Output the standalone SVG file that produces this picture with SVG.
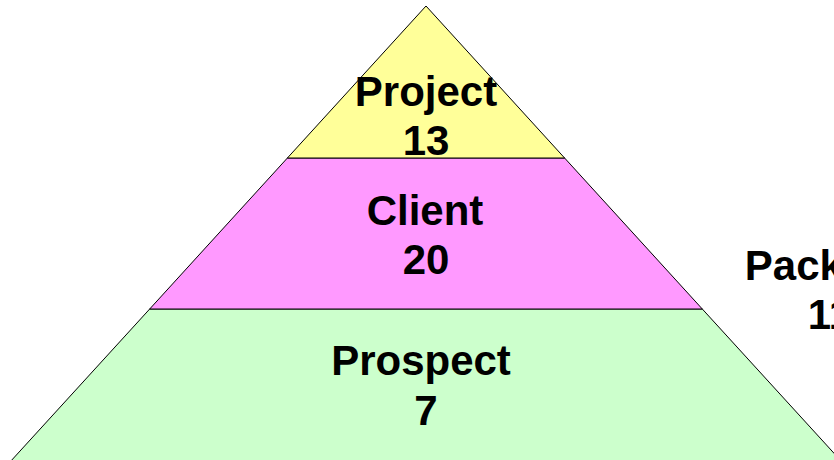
<svg xmlns="http://www.w3.org/2000/svg" width="834" height="460" viewBox="0 0 834 460">
<style>
.t{font-family:"Liberation Sans",Arial,sans-serif;font-weight:bold;font-size:42px;fill:#000;text-anchor:middle}
.s{stroke:#000;stroke-width:1}
</style>
<rect width="834" height="460" fill="#fff"/>
<g id="prospect">
<polygon class="s" points="149.7,309 702.3,309 842,462 10,462" fill="#CCFFCC"/>
<text class="t" x="421" y="375">Prospect</text>
<text class="t" x="426" y="425">7</text>
</g>
<g id="client">
<polygon class="s" points="287.4,158 564.6,158 702.3,309 149.7,309" fill="#FF99FF"/>
<text class="t" x="425" y="225">Client</text>
<text class="t" x="426" y="274">20</text>
</g>
<g id="project">
<polygon class="s" points="426,6 564.6,158 287.4,158" fill="#FFFF99"/>
<text class="t" x="426" y="106">Project</text>
<text class="t" x="426" y="155">13</text>
</g>
<g id="package">
<text class="t" x="830" y="280">Package</text>
<text class="t" x="830" y="329">11</text>
</g>
<g id="connectors"/>
</svg>
